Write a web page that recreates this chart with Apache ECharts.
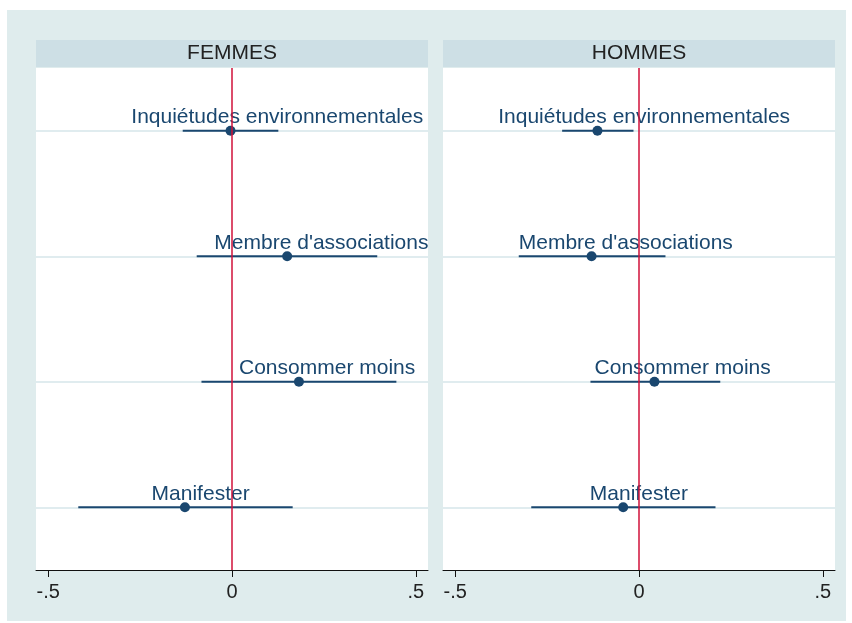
<!DOCTYPE html>
<html>
<head>
<meta charset="utf-8">
<script src="https://cdn.jsdelivr.net/npm/echarts@6/dist/echarts.min.js"></script>
<style>
  body { margin: 0; background: #fff; }
  #chart { width: 852px; height: 623px; }
</style>
</head>
<body>
<div id="chart"></div>
<script>
  // rows, top to bottom
  var categories = ['Inquiétudes environnementales', "Membre d'associations", 'Consommer moins', 'Manifester']
  var panels = ['FEMMES', 'HOMMES']

  var femCoef = [-0.004, 0.150, 0.182, -0.128]
  var femLo = [-0.134, -0.096, -0.083, -0.418]
  var femHi = [0.126, 0.395, 0.447, 0.165]

  var homCoef = [-0.113, -0.129, 0.042, -0.043]
  var homLo = [-0.209, -0.327, -0.132, -0.293]
  var homHi = [-0.015, 0.072, 0.221, 0.208]

  var tickValues = [-0.5, 0, 0.5]
  var tickLabels = ['-.5', '0', '.5']

  var FONT = 'Liberation Sans, Arial, Helvetica, sans-serif'
  var NAVY = '#1a476f'
  var RED = '#d0103a'

  var ctx = document.createElement('canvas').getContext('2d')
  ctx.font = '21px ' + FONT
  function labelShift (txt) {
    return ctx.measureText(txt).width * 0.16
  }

  var grids = [
    { left: 36, top: 68, width: 392, height: 502 },
    { left: 443, top: 68, width: 392, height: 502 }
  ]

  var xAxes = grids.map(function (g, i) {
    return {
      type: 'value',
      gridIndex: i,
      min: -0.533,
      max: 0.533,
      axisLine: { show: true, lineStyle: { color: '#111', width: 1 } },
      axisTick: { show: true, length: 7, inside: false, customValues: tickValues, lineStyle: { color: '#111' } },
      axisLabel: {
        customValues: tickValues,
        margin: 12,
        fontSize: 20,
        fontFamily: FONT,
        color: '#222',
        formatter: function (v) {
          var k = tickValues.indexOf(v)
          return k >= 0 ? tickLabels[k] : ''
        }
      },
      splitLine: { show: false }
    }
  })

  var yAxes = grids.map(function (g, i) {
    return {
      type: 'category',
      gridIndex: i,
      inverse: true,
      data: categories,
      axisLine: { show: false },
      axisTick: { show: false },
      axisLabel: { show: false },
      splitLine: { show: false }
    }
  })

  var sets = [[femCoef, femLo, femHi], [homCoef, homLo, homHi]]
  var series = []
  sets.forEach(function (s, i) {
    var coef = s[0], lo = s[1], hi = s[2]
    // confidence intervals + row guide lines
    series.push({
      type: 'custom',
      xAxisIndex: i,
      yAxisIndex: i,
      silent: true,
      z: 1,
      data: categories.map(function (c, k) { return [lo[k], hi[k], k] }),
      renderItem: function (params, api) {
        var a = api.coord([api.value(0), api.value(2)])
        var b = api.coord([api.value(1), api.value(2)])
        return {
          type: 'line',
          shape: { x1: a[0], y1: a[1], x2: b[0], y2: b[1] },
          style: { stroke: NAVY, lineWidth: 2 }
        }
      },
      markLine: {
        silent: true,
        symbol: 'none',
        label: { show: false },
        lineStyle: { color: '#e0ecef', width: 2, type: 'solid' },
        z: 0,
        data: categories.map(function (c) { return { yAxis: c } })
      }
    })
    series.push({
      type: 'scatter',
      xAxisIndex: i,
      yAxisIndex: i,
      symbol: 'circle',
      symbolSize: 10,
      z: 3,
      itemStyle: { color: NAVY, opacity: 1 },
      data: categories.map(function (c, k) {
        return {
          value: [coef[k], c],
          name: c,
          label: { offset: [labelShift(c), 0] }
        }
      }),
      label: {
        show: true,
        position: 'top',
        distance: -2,
        formatter: '{b}',
        fontSize: 21,
        fontFamily: FONT,
        color: NAVY
      }
    })
    // reference line at zero
    series.push({
      type: 'line',
      xAxisIndex: i,
      yAxisIndex: i,
      data: [],
      z: 4,
      markLine: {
        silent: true,
        symbol: 'none',
        label: { show: false },
        lineStyle: { color: RED, width: 1.5, type: 'solid' },
        data: [{ xAxis: 0 }]
      }
    })
  })

  var graphics = [
    { type: 'rect', shape: { x: 7, y: 10, width: 839, height: 611 }, style: { fill: '#dfeced' }, z: -10 }
  ]
  grids.forEach(function (g, i) {
    graphics.push({ type: 'rect', shape: { x: g.left, y: g.top, width: g.width, height: g.height }, style: { fill: '#fff' }, z: -9 })
    graphics.push({ type: 'rect', shape: { x: g.left, y: 40, width: g.width, height: 27 }, style: { fill: '#cddfe5' }, z: -9 })
    graphics.push({
      type: 'text',
      x: g.left + g.width / 2,
      y: 53,
      style: { text: panels[i], fontSize: 21, fontFamily: FONT, fill: '#222', align: 'center', verticalAlign: 'middle' },
      z: -8
    })
  })

  var chart = echarts.init(document.getElementById('chart'))
  chart.setOption({
    backgroundColor: '#fff',
    animation: false,
    graphic: graphics,
    grid: grids,
    xAxis: xAxes,
    yAxis: yAxes,
    series: series
  })
</script>
</body>
</html>
